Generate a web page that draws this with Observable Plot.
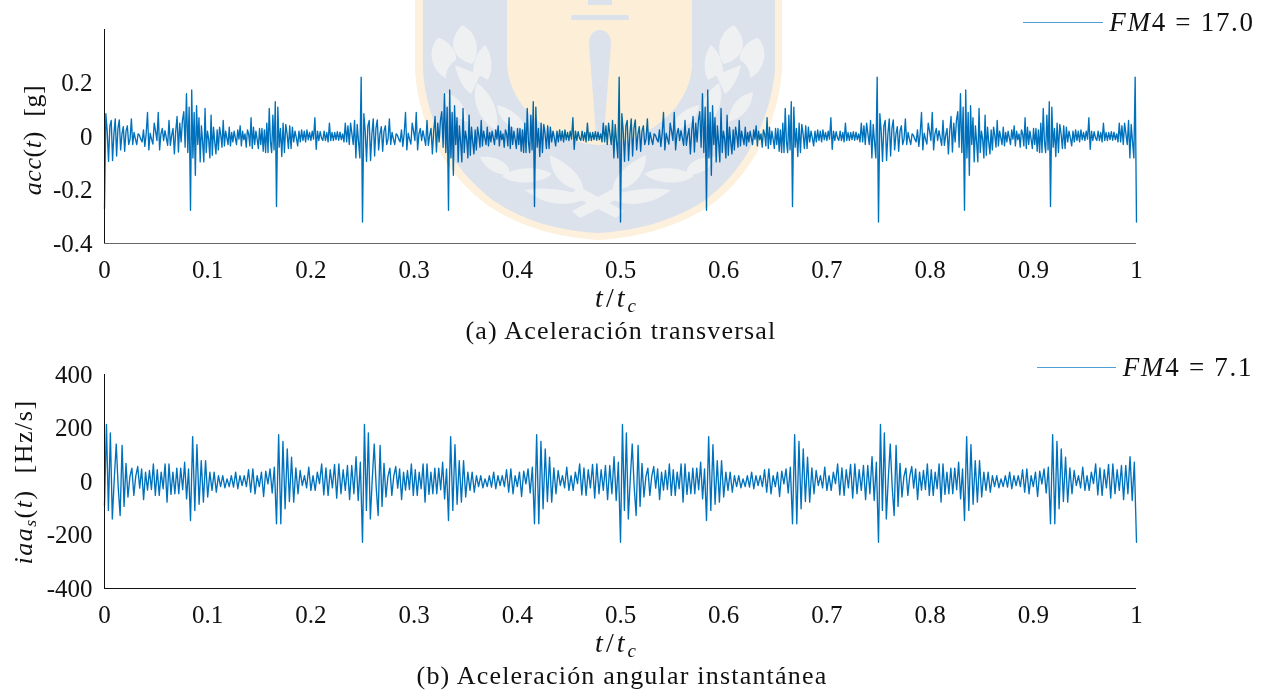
<!DOCTYPE html>
<html><head><meta charset="utf-8">
<script src="https://cdn.jsdelivr.net/npm/d3@7"></script>
<script src="https://cdn.jsdelivr.net/npm/@observablehq/plot@0.6"></script>
<style>
html,body{margin:0;padding:0;background:#fff}
#page{position:relative;width:1269px;height:692px;overflow:hidden;background:#fff;font-family:"Liberation Serif",serif;color:#111}
.t{position:absolute;white-space:nowrap;transform:translate(-50%,-50%);line-height:1}
.r{transform:translate(-50%,-50%) rotate(-90deg)}
i{font-style:italic}
sub{font-size:.68em;line-height:0;vertical-align:-.25em}
.leg{position:absolute;height:1px;background:#4f9fd6}
#logo{position:absolute;left:0;top:0;mix-blend-mode:multiply;pointer-events:none}
</style></head><body>
<div id="page"></div>
<script>
// Transverse acceleration (g), one shaft cycle: three sections between the impacts
const accStart = -0.27;
const accA = [.085,.02,-.093,.04,.06,-.09,.01,.066,-.073,.03,.062,-.05,.01,.037,-.055,.02,.04,-.03,-.01,.066,-.03,.015,-.01,-.03,.01,.005,-.01,-.02,.025,-.037,.01,.09,-.05,.012,-.01,-.028,.05,.02,-.015,.09,-.05,.01,.03,-.015,.022,-.005,-.033,.06,-.033,.005,.03,-.065,.02,.075,-.058,.05,-.02,.06,.093,-.04,.16,-.06,.11,-.276];
const accB = [.174,-.08,.09,-.145,.115,-.03,.07,-.095,.04,-.02,-.095,.105,-.06,.02,-.01,-.08,.08,-.07,.035,-.02,-.065,.025,-.05,.035,.005,-.04,.06,-.035,.02,-.005,-.03,.035,-.035,.015,-.02,.02,-.005,-.03,.025,-.01,.04,-.035,.02,-.012,.01,-.04,.025,.01,-.035,.07,-.045,.035,-.03,.02,-.01,-.045,.03,-.03,.03,-.055,.025,-.06,.05,-.06,.105,-.02,-.06,.08,-.05,.13,-.262];
const accC = [.11,-.04,.03,-.075,.05,-.06,.045,.01,-.045,.04,-.045,.035,-.02,.02,-.005,-.035,.02,-.02,.025,-.015,.02,-.02,.025,-.012,.015,-.015,.02,-.01,.07,-.048,.02,-.015,.018,-.005,-.015,.02,-.015,.015,-.02,.05,-.015,.015,-.015,.015,-.012,.018,-.014,.016,-.012,.01,-.02,.05,-.02,.04,-.03,.05,.01,-.03,.06,-.08,.045,-.02,-.08,.222,-.32];
// Instantaneous angular acceleration (Hz/s)
const iaaStart = -90;
const iaaA = [213,-108,182,-140,10,140,-20,-127,135,-93,68,-58,18,50,-52,20,56,-25,47,-68,35,-32,41,-30,66,-52,44,-52,35,-27,66,-77,66,-48,35,-46,50,-46,50,-31,72,-65,47,-146];
const iaaB = [168,-108,138,-85,78,-77,78,-58,35,-33,35,-40,22,-19,22,-24,10,-19,22,-21,35,-27,22,-15,22,-19,44,-40,47,-46,22,-19,35,-56,39,-9,47,-43,54,-158];
const iaaC = [175,-158,150,-102,122,-75,91,-77,51,-46,41,-15,22,-24,54,-33,22,-33,35,-8,66,-50,51,-52,44,-24,64,-62,66,-46,44,-33,60,-68,60,-46,93,-71,72,-227];
const xTicks = [0,.1,.2,.3,.4,.5,.6,.7,.8,.9,1];
const accTicks = [-.4,-.2,0,.2];
const iaaTicks = [-400,-200,0,200,400];
const cycles = [0,1,2,3];

function series(start, sections){
  const pts = [{t:0, v:start}];
  cycles.forEach(c => sections.forEach((s,k) => s.forEach((v,i) =>
    pts.push({t:(c*3+k+(i+1)/s.length)/12, v}))));
  return pts;
}
const page = document.getElementById("page");
function panel(pts, yDomain, yTicks, fmt, top, mt, mb, axisColor){
  const svg = Plot.plot({
    width:1269, height:346, marginLeft:104, marginRight:133, marginTop:mt, marginBottom:mb,
    style:{background:"transparent", fontFamily:"'Liberation Serif',serif", fontSize:"25px", color:"#111"},
    x:{domain:[0,1]}, y:{domain:yDomain},
    marks:[
      Plot.line(pts,{x:"t",y:"v",stroke:"#0072BD",strokeWidth:1.35}),
      Plot.ruleX([0],{stroke:"#111",strokeWidth:1}),
      Plot.ruleY([yDomain[0]],{stroke:axisColor,strokeWidth:1}),
      Plot.axisX({ticks:xTicks,tickSize:0,tickPadding:17,label:null,tickFormat:d=>String(d)}),
      Plot.axisY({ticks:yTicks,tickSize:0,tickPadding:12,label:null,tickFormat:fmt})
    ]
  });
  svg.style.position="absolute"; svg.style.top=top+"px"; svg.style.left="0";
  page.appendChild(svg);
}
panel(series(accStart,[accA,accB,accC]),[-.4,.4],accTicks,d=>String(d),0,29,103,"#666");
panel(series(iaaStart,[iaaA,iaaB,iaaC]),[-400,400],iaaTicks,d=>String(d),346,28,104,"#111");

function label(html,x,y,size,extra){
  const d=document.createElement("div"); d.className="t"+(extra&&extra.r?" r":"");
  d.innerHTML=html; d.style.left=x+"px"; d.style.top=y+"px"; d.style.fontSize=size+"px";
  if(extra&&extra.ls) d.style.letterSpacing=extra.ls+"px";
  page.appendChild(d);
}
label('<i>t</i>/<i>t</i><sub><i>c</i></sub>',617,298,28,{ls:3});
label('<i>t</i>/<i>t</i><sub><i>c</i></sub>',617,643,28,{ls:3});
label('(a) Aceleración transversal',621,331,26,{ls:1.2});
label('(b) Aceleración angular instantánea',622,676,26,{ls:1.2});
label('<i>acc</i>(<i>t</i>)&nbsp; [g]',33,140,26,{r:1,ls:.6});
label('<i>iaa<sub>s</sub></i>(<i>t</i>)&nbsp; [Hz/s]',24,482,26,{r:1,ls:1.5});
label('<i>FM</i>4 = 17.0',1182,22,27,{ls:1.7});
label('<i>FM</i>4 = 7.1',1188,367,27,{ls:1.7});
for(const [l,w,t] of [[1023,80,22],[1037,79,367]]){
  const d=document.createElement("div"); d.className="leg";
  d.style.left=l+"px"; d.style.width=w+"px"; d.style.top=t+"px"; page.appendChild(d);
}
page.insertAdjacentHTML("beforeend",`<svg id="logo" width="1269" height="692" viewBox="0 0 1269 692">
<defs><g id="lv" fill="#eef0f2">
<path d="M462,25C482,35 478,58 472,64C456,60 444,45 462,25Z"/>
<path d="M438,38C450,40 458,55 456,60C448,65 446,72 446,78C432,72 426,50 438,38Z"/>
<path d="M485,45C493,55 493,72 488,80L473,72C473,62 477,52 485,45Z"/>
<path d="M455,65L480,75L471,94C462,88 457,75 455,65Z"/>
<path d="M477,83C494,95 500,115 496,130C480,122 470,100 477,83Z"/>
<path d="M443,92C457,95 466,105 468,122C453,118 444,108 443,92Z"/>
<path d="M497,105C512,108 524,120 527,130C508,130 498,118 497,105Z"/>
<path d="M480,157C498,155 512,165 509,175C494,175 484,167 480,157Z"/>
<path d="M502,176C515,166 540,166 552,174C540,184 515,186 502,176Z"/>
<path d="M550,155C572,165 584,180 583,190C564,190 550,175 550,155Z"/>
<path d="M525,190C545,186 570,190 589,197C570,208 545,206 525,190Z"/>
<path d="M572,211L618,186L625,195L580,218Z"/>
</g></defs>
<path fill="#fdf0dc" d="M415,0L415,70C418,125 445,175 490,207C525,230 565,238 598,240C635,238 675,228 708,207C750,178 778,125 782,70L782,0Z"/>
<path fill="#dbe2ec" d="M423,0L423,70C426,122 452,170 494,201C528,224 565,231 598,233C633,231 672,222 704,201C744,172 770,122 775,70L775,0Z"/>
<path fill="#fdeed8" d="M507,0L507,65C510,110 555,143 598,145C645,143 690,110 692,65L692,0Z"/>
<g fill="#dbe2ec"><rect x="588" y="0" width="24" height="5"/><rect x="571" y="15" width="58" height="5" rx="2.5"/>
<path d="M589,44C589,25 611,25 611,44L604,135L596,135Z"/></g>
<use href="#lv"/><use href="#lv" transform="translate(1196,0) scale(-1,1)"/>
</svg>`);
</script>
</body></html>
